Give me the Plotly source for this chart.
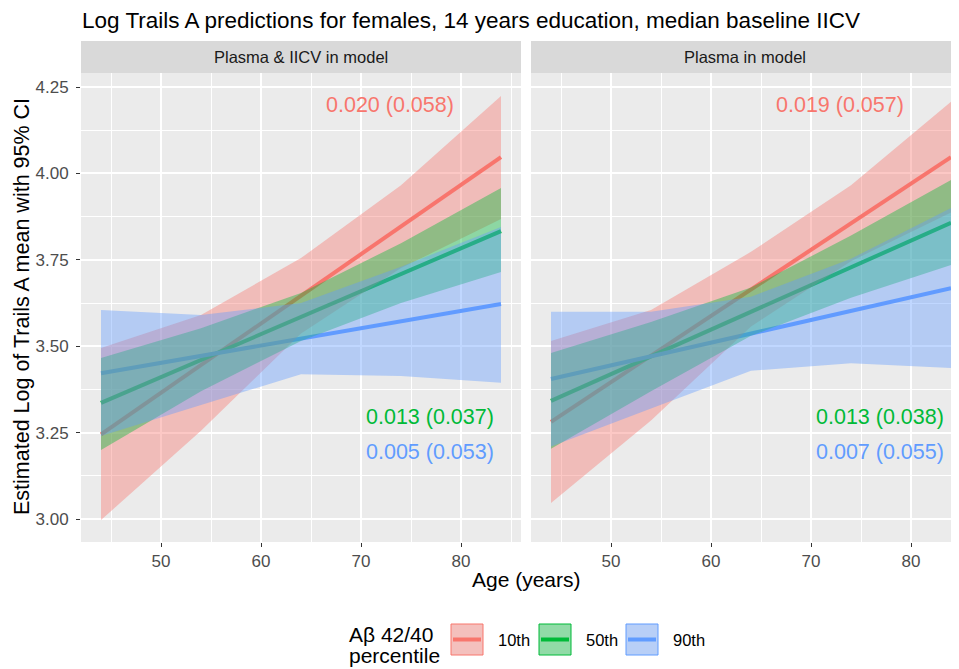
import plotly.graph_objects as go

# ---------------- data ----------------
ages = [44, 54, 64, 74, 84]
groups = ["10th", "50th", "90th"]
panel_titles = ["Plasma & IICV in model", "Plasma in model"]

# Panel 1: Plasma & IICV in model
p1_mean_10 = [3.245, 3.446, 3.646, 3.847, 4.047]
p1_upper_10 = [3.495, 3.590, 3.755, 3.966, 4.224]
p1_lower_10 = [2.997, 3.255, 3.537, 3.726, 3.868]
p1_mean_50 = [3.336, 3.460, 3.585, 3.709, 3.833]
p1_upper_50 = [3.466, 3.552, 3.654, 3.798, 3.958]
p1_lower_50 = [3.200, 3.370, 3.515, 3.625, 3.715]
p1_mean_90 = [3.422, 3.472, 3.522, 3.572, 3.622]
p1_upper_90 = [3.605, 3.590, 3.625, 3.730, 3.845]
p1_lower_90 = [3.240, 3.330, 3.419, 3.414, 3.394]

# Panel 2: Plasma in model
p2_mean_10 = [3.281, 3.473, 3.665, 3.856, 4.047]
p2_upper_10 = [3.515, 3.605, 3.773, 3.966, 4.207]
p2_lower_10 = [3.046, 3.285, 3.557, 3.746, 3.887]
p2_mean_50 = [3.342, 3.471, 3.600, 3.728, 3.857]
p2_upper_50 = [3.480, 3.570, 3.670, 3.820, 3.981]
p2_lower_50 = [3.203, 3.370, 3.530, 3.640, 3.735]
p2_mean_90 = [3.405, 3.471, 3.536, 3.602, 3.668]
p2_upper_90 = [3.600, 3.600, 3.643, 3.753, 3.900]
p2_lower_90 = [3.210, 3.320, 3.429, 3.451, 3.437]

p1_labels = ["0.020 (0.058)", "0.013 (0.037)", "0.005 (0.053)"]
p2_labels = ["0.019 (0.057)", "0.013 (0.038)", "0.007 (0.055)"]

y_ticks = [3.00, 3.25, 3.50, 3.75, 4.00, 4.25]
x_ticks = [50, 60, 70, 80]

# ---------------- style / geometry ----------------
FONT = "Liberation Sans, Arial, sans-serif"
colors = {"10th": "#F8766D", "50th": "#00BA38", "90th": "#619CFF"}
rgb = {"10th": (248, 118, 109), "50th": (0, 186, 56), "90th": (97, 156, 255)}
ALPHA = 0.4

OFF = 8                      # page body margin of the html page
W, H = 959 - OFF, 669 - OFF  # figure size
# target page-pixel geometry
PL, PR, PT, PB = 81, 959, 41, 542
ML, MR, MT, MB = PL - OFF, 0, PT - OFF, H - (PB - OFF)
PW, PH = W - ML - MR, H - MT - MB


def px(xp):
    return (xp - OFF - ML) / PW


def py(yp):
    return (H - MB - (yp - OFF)) / PH


panel_top = py(73)
Y_RANGE = [3 - 23 / 345.6, 4.25 + 14 / 345.6]
panels = [
    dict(title=panel_titles[0], xa="x", ya="y", dom=[0, px(521)],
         mean=[p1_mean_10, p1_mean_50, p1_mean_90],
         upper=[p1_upper_10, p1_upper_50, p1_upper_90],
         lower=[p1_lower_10, p1_lower_50, p1_lower_90],
         labels=p1_labels),
    dict(title=panel_titles[1], xa="x2", ya="y2", dom=[px(531), 1],
         mean=[p2_mean_10, p2_mean_50, p2_mean_90],
         upper=[p2_upper_10, p2_upper_50, p2_upper_90],
         lower=[p2_lower_10, p2_lower_50, p2_lower_90],
         labels=p2_labels),
]

fig = go.Figure()

for p in panels:
    # lines first (ribbons drawn on top, as in the original)
    for g, m in zip(groups, p["mean"]):
        fig.add_trace(go.Scatter(x=ages, y=m, mode="lines",
                                 line=dict(color=colors[g], width=4),
                                 xaxis=p["xa"], yaxis=p["ya"],
                                 showlegend=False, hoverinfo="skip"))
    for g, up, lo in zip(groups, p["upper"], p["lower"]):
        r, gg, b = rgb[g]
        fig.add_trace(go.Scatter(x=ages + ages[::-1], y=up + lo[::-1],
                                 mode="lines", fill="toself",
                                 fillcolor=f"rgba({r},{gg},{b},{ALPHA})",
                                 line=dict(width=0),
                                 xaxis=p["xa"], yaxis=p["ya"],
                                 showlegend=False, hoverinfo="skip"))

axis_common = dict(
    showgrid=True, gridcolor="white", gridwidth=1.6, zeroline=False,
    ticklen=4, tickwidth=1.3, tickcolor="#333333",
    tickfont=dict(family=FONT, size=17, color="#4D4D4D"),
    showline=False,
)
minor_x = dict(dtick=5, tick0=0, showgrid=True, gridcolor="white", gridwidth=0.8)
minor_y = dict(dtick=0.125, tick0=0, showgrid=True, gridcolor="white", gridwidth=0.8)

fig.update_layout(
    xaxis=dict(domain=panels[0]["dom"], range=[42, 86], anchor="y",
               tickvals=x_ticks, ticks="outside", minor=minor_x, **axis_common),
    xaxis2=dict(domain=panels[1]["dom"], range=[42, 42 + (959 - 531) / 10], anchor="y2",
                tickvals=x_ticks, ticks="outside", minor=minor_x, **axis_common),
    yaxis=dict(domain=[0, panel_top], range=Y_RANGE, anchor="x",
               tickvals=y_ticks, ticktext=[f"{v:.2f}" for v in y_ticks],
               ticks="outside", ticklabelstandoff=4, minor=minor_y, **axis_common),
    yaxis2=dict(domain=[0, panel_top], range=Y_RANGE, anchor="x2",
                matches="y", tickvals=y_ticks, showticklabels=False, ticks="",
                minor=minor_y, **axis_common),
    plot_bgcolor="#EBEBEB",
    paper_bgcolor="white",
    width=W, height=H,
    margin=dict(l=ML, r=MR, t=MT, b=MB),
    title=dict(text="Log Trails A predictions for females, 14 years education, median baseline IICV",
               x=(82 - OFF) / W, xanchor="left", y=1 - (20.5 - OFF) / H, yanchor="middle",
               font=dict(family=FONT, size=22.5, color="black")),
    showlegend=False,
)

shapes = []
annotations = []

# strips
for p in panels:
    shapes.append(dict(type="rect", xref="paper", yref="paper",
                       x0=p["dom"][0], x1=p["dom"][1], y0=panel_top, y1=1,
                       fillcolor="#D9D9D9", line=dict(width=0), layer="above"))
    annotations.append(dict(xref="paper", yref="paper",
                            x=(p["dom"][0] + p["dom"][1]) / 2, y=(panel_top + 1) / 2,
                            text=p["title"], showarrow=False,
                            font=dict(family=FONT, size=16.5, color="#1A1A1A"),
                            xanchor="center", yanchor="middle"))

# coefficient labels
label_pos = [(72.9, 4.198), (76.9, 3.295), (76.9, 3.194)]
for p in panels:
    for g, txt, (lx, ly) in zip(groups, p["labels"], label_pos):
        annotations.append(dict(xref=p["xa"], yref=p["ya"], x=lx, y=ly, text=txt,
                                showarrow=False, xanchor="center", yanchor="middle",
                                font=dict(family=FONT, size=21.5, color=colors[g])))

# axis titles
annotations.append(dict(xref="paper", yref="paper", x=px(526), y=py(579),
                        text="Age (years)", showarrow=False,
                        xanchor="center", yanchor="middle",
                        font=dict(family=FONT, size=21, color="black")))
annotations.append(dict(xref="paper", yref="paper", x=px(22), y=py(307),
                        text="Estimated Log of Trails A mean with 95% CI", showarrow=False,
                        textangle=-90, xanchor="center", yanchor="middle",
                        font=dict(family=FONT, size=21.5, color="black")))

# legend (manual, ggplot style)
annotations.append(dict(xref="paper", yref="paper", x=px(347), y=py(634.5),
                        text="Aβ 42/40", showarrow=False,
                        xanchor="left", yanchor="middle",
                        font=dict(family=FONT, size=21, color="black")))
annotations.append(dict(xref="paper", yref="paper", x=px(347), y=py(655.5),
                        text="percentile", showarrow=False,
                        xanchor="left", yanchor="middle",
                        font=dict(family=FONT, size=21, color="black")))
key_x = [451, 539, 626]
for g, kx in zip(groups, key_x):
    r, gg, b = rgb[g]
    shapes.append(dict(type="rect", xref="paper", yref="paper",
                       x0=px(kx), x1=px(kx + 32), y0=py(655), y1=py(624),
                       fillcolor="#F2F2F2", line=dict(width=0)))
    shapes.append(dict(type="rect", xref="paper", yref="paper",
                       x0=px(kx), x1=px(kx + 32), y0=py(655), y1=py(624),
                       fillcolor=f"rgba({r},{gg},{b},{ALPHA})",
                       line=dict(color=colors[g], width=1)))
    shapes.append(dict(type="line", xref="paper", yref="paper",
                       x0=px(kx + 2), x1=px(kx + 30), y0=py(639.5), y1=py(639.5),
                       line=dict(color=colors[g], width=4)))
    annotations.append(dict(xref="paper", yref="paper", x=px(kx + 45), y=py(640),
                            text=g, showarrow=False, xanchor="left", yanchor="middle",
                            font=dict(family=FONT, size=16.5, color="black")))

fig.update_layout(shapes=shapes, annotations=annotations)
fig.write_html("out.html")
